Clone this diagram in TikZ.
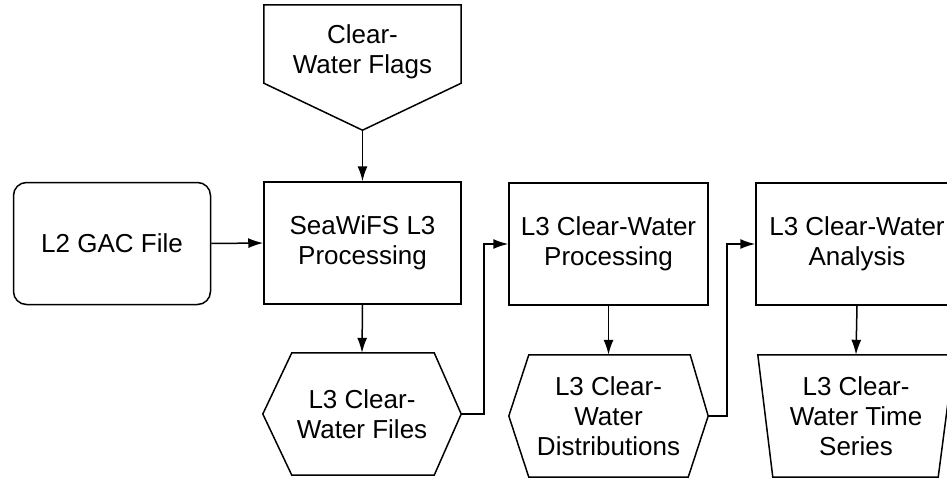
\documentclass[tikz,border=0pt]{standalone}
\usepackage{fontspec}
\setmainfont{Liberation Sans}
\usetikzlibrary{arrows.meta}
\begin{document}
\begin{tikzpicture}[x=1pt,y=-1pt,
  every node/.style={font=\fontsize{26}{30}\selectfont, align=center, inner sep=0pt},
  outline/.style={draw=black, line width=1.5pt, line join=miter},
  boxnode/.style={outline, minimum width=197pt, minimum height=122pt},
  roundbox/.style={boxnode, rounded corners=13pt},
  shapenode/.style={minimum width=198pt, minimum height=122pt},
  conn/.style={line width=1.5pt, -{Latex[length=15pt,width=10pt]}}]
\path[use as bounding box, clip] (0,0) rectangle (947,479);

% nodes
\node[roundbox] (gac) at (112,243.5) {L2 GAC File};
\node[boxnode] (proc1) at (362.5,243) {SeaWiFS L3\\Processing};
\node[boxnode, minimum width=199pt] (proc2) at (608.5,244) {L3 Clear-Water\\Processing};
\node[boxnode, minimum width=202pt] (proc3) at (857,244) {L3 Clear-Water\\Analysis};

\node[shapenode, minimum width=197pt, minimum height=125pt] (flags) at (362.5,67.5) {};
\node at (362.5,52) {Clear-\\Water Flags};
\draw[outline] (flags.north west) -- (flags.north east) -- ([yshift=47pt]flags.north east |- flags.south)
  -- (flags.south) -- ([yshift=47pt]flags.south west) -- cycle;

\node[shapenode] (hex1) at (362,414) {L3 Clear-\\Water Files};
\draw[outline] ([xshift=29pt]hex1.north west) -- ([xshift=-27pt]hex1.north east) -- (hex1.east)
  -- ([xshift=-27pt]hex1.south east) -- ([xshift=29pt]hex1.south west) -- (hex1.west) -- cycle;

\node[shapenode, minimum width=199pt] (hex2) at (608.5,416) {L3 Clear-\\Water\\Distributions};
\draw[outline] ([xshift=20pt]hex2.north west) -- ([xshift=-18pt]hex2.north east) -- (hex2.east)
  -- ([xshift=-20pt]hex2.south east) -- ([xshift=20pt]hex2.south west) -- (hex2.west) -- cycle;

\node[shapenode, minimum width=196pt] (trap) at (856,416) {L3 Clear-\\Water Time\\Series};
\draw[outline] (trap.north west) -- (trap.north east) -- ([xshift=-16pt]trap.south east)
  -- ([xshift=15pt]trap.south west) -- cycle;

% connectors
\draw[conn] (flags.south) -- (proc1.north);
\draw[conn] (gac.east) -- (proc1.west);
\draw[conn] (proc1.south) -- (hex1.north);
\draw[conn] (hex1.east) -- ++(23,0) |- (proc2.west);
\draw[conn] (proc2.south) -- (hex2.north);
\draw[conn] (hex2.east) -- ++(19,0) |- (proc3.west);
\draw[conn] (proc3.south) -- (trap.north);
\end{tikzpicture}
\end{document}
